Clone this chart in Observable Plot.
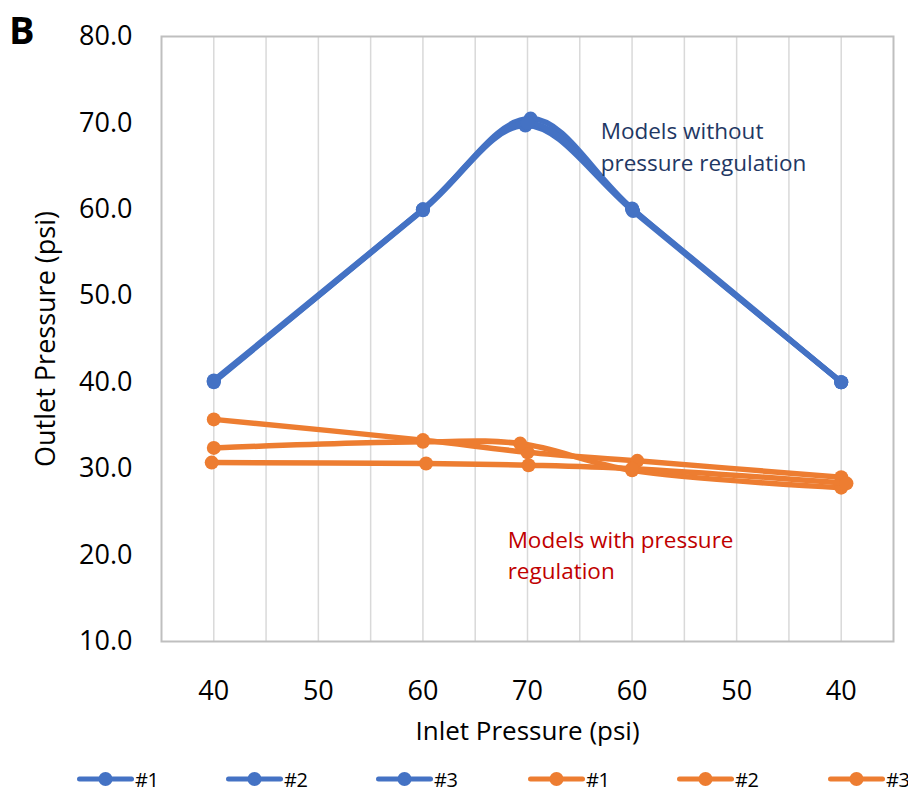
<!DOCTYPE html>
<html><head><meta charset="utf-8">
<script src="https://cdn.jsdelivr.net/npm/d3@7"></script>
<script src="https://cdn.jsdelivr.net/npm/@observablehq/plot@0.6"></script>
<style>
body{margin:0;background:#fff;font-family:"Open Sans",sans-serif;}
#wrap{position:relative;width:908px;height:794px;overflow:hidden;}
#panel{position:absolute;left:9px;top:7px;font-weight:700;font-size:38px;color:#000;line-height:1.2;}
#legend{position:absolute;top:760px;left:0;width:908px;height:34px;}
.item{position:absolute;top:0;height:38px;display:flex;align-items:center;font-size:20px;letter-spacing:-0.5px;color:#000;}
.item svg{display:block;margin-right:1px;}
</style></head><body>
<div id="wrap"><div id="chart"></div><div id="panel">B</div><div id="legend"></div></div>
<script>
// category labels of the inlet pressure axis (positions 0..6)
const inletLabels = ["40","50","60","70","60","50","40"];
const outletTicks = [10,20,30,40,50,60,70,80];
const seriesNames = ["#1","#2","#3","#1","#2","#3"];
const seriesColors = ["#4472C4","#4472C4","#4472C4","#ED7D31","#ED7D31","#ED7D31"];

// Models without pressure regulation (blue)
const blue1X = [0, 2, 3.03, 4, 6];
const blue1Y = [40.0, 60.0, 70.5, 60.1, 40.0];
const blue2X = [0, 2, 2.98, 4, 6];
const blue2Y = [40.1, 59.9, 69.7, 60.0, 40.0];
const blue3X = [0, 2, 3, 4.01, 6];
const blue3Y = [40.2, 60.0, 70.0, 59.8, 40.0];
// Models with pressure regulation (orange)
const orange1X = [0, 2, 3, 4.05, 6];
const orange1Y = [35.7, 33.3, 31.9, 30.9, 29.0];
const orange2X = [0, 2, 2.93, 4, 6];
const orange2Y = [32.4, 33.1, 32.9, 29.8, 27.8];
const orange3X = [-0.02, 2.03, 3.01, 4, 6.05];
const orange3Y = [30.7, 30.6, 30.4, 30.0, 28.3];

const seriesX = [blue1X, blue2X, blue3X, orange1X, orange2X, orange3X];
const seriesY = [blue1Y, blue2Y, blue3Y, orange1Y, orange2Y, orange3Y];

const rows = [];
seriesX.forEach((xs, s) => xs.forEach((x, i) => rows.push({s, x, y: seriesY[s][i]})));

const annotations = [
  {x: 3.70, y: 70.8, text: "Models without\npressure regulation", color: "#1F3864"},
  {x: 2.81, y: 23.5, text: "Models with pressure\nregulation", color: "#C00000"}
];

const gridValues = d3.range(0, 13).map(i => i * 0.5);

const seriesMarks = [];
seriesNames.forEach((n, s) => {
  const d = rows.filter(r => r.s === s);
  seriesMarks.push(Plot.line(d, {x: "x", y: "y", stroke: seriesColors[s], strokeWidth: 5.5, curve: "catmull-rom"}));
  seriesMarks.push(Plot.dot(d, {x: "x", y: "y", r: 7, fill: seriesColors[s], stroke: "none"}));
});

const chart = Plot.plot({
  width: 908,
  height: 755,
  marginLeft: 161,
  marginRight: 15,
  marginTop: 36,
  marginBottom: 114,
  style: {fontFamily: "'Open Sans', sans-serif", color: "#000", background: "#fff", overflow: "visible"},
  x: {domain: [-0.5, 6.5]},
  y: {domain: [10, 80]},
  marks: [
    Plot.gridX(gridValues, {stroke: "#d9d9d9", strokeOpacity: 1, strokeWidth: 1.5}),
    Plot.frame({stroke: "#bfbfbf", strokeWidth: 2}),
    Plot.axisY(outletTicks, {tickFormat: d => d.toFixed(1), tickSize: 0, tickPadding: 29, fontSize: 27, label: null}),
    Plot.axisX(d3.range(0, 7), {tickFormat: i => inletLabels[i], tickSize: 0, tickPadding: 39, fontSize: 27, label: null}),
    Plot.axisX([], {label: "Inlet Pressure (psi)", labelAnchor: "center", labelArrow: "none", labelOffset: 98, fontSize: 26}),
    Plot.axisY([], {label: "Outlet Pressure (psi)", labelAnchor: "center", labelArrow: "none", labelOffset: 126, fontSize: 27}),
    ...seriesMarks,
    Plot.text(annotations, {x: "x", y: "y", text: "text", fill: "color", textAnchor: "start", lineAnchor: "top", fontSize: 22.5, lineHeight: 1.42})
  ]
});
document.getElementById("chart").appendChild(chart);

// legend
const legend = document.getElementById("legend");
const legendLeft = [77, 226, 376, 528, 677, 828];
seriesNames.forEach((n, s) => {
  const item = document.createElement("div");
  item.className = "item";
  item.style.left = legendLeft[s] + "px";
  item.innerHTML = `<svg width="57" height="20"><line x1="2.5" x2="54.5" y1="10" y2="10" stroke="${seriesColors[s]}" stroke-width="5" stroke-linecap="round"/><circle cx="28.5" cy="10" r="7" fill="${seriesColors[s]}"/></svg><span>${n}</span>`;
  legend.appendChild(item);
});
</script>
</body></html>
